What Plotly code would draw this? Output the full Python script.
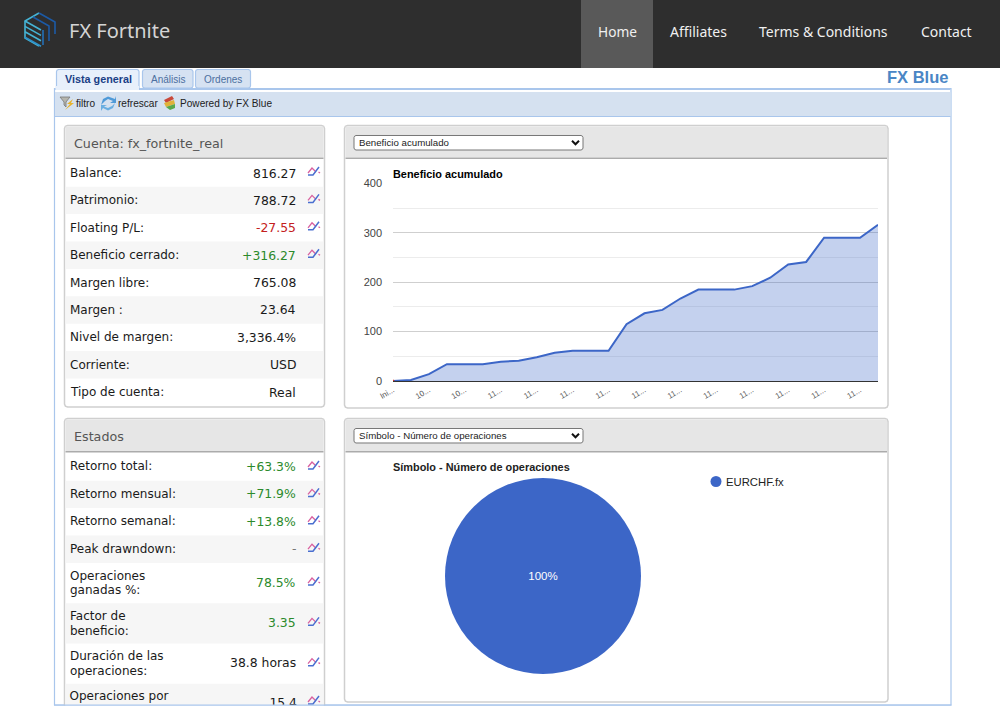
import plotly.graph_objects as go

W = 1000
H = 727

ARIAL = "Liberation Sans"
VERDANA = "DejaVu Sans"
NAV = "Noto Sans"
GREEN = "#2b8a2b"
RED = "#c42020"
BLACK = "#1a1a1a"
BLUE = "#3c66c7"

# cumulative profit, one value per closed trade
profit = [0, 2, 14, 34, 34, 34, 39, 41, 48, 57, 61, 61, 61, 115, 137, 144,
          167, 185, 185, 185, 192, 209, 236, 241, 290, 290, 290, 316.27]
tick_pos = list(range(0, 28, 2))
tick_txt = ["Ini..."] + ["10..."] * 2 + ["11..."] * 11

account_rows = [
    ("Balance:", "816.27", BLACK, True),
    ("Patrimonio:", "788.72", BLACK, True),
    ("Floating P/L:", "-27.55", RED, True),
    ("Beneficio cerrado:", "+316.27", GREEN, True),
    ("Margen libre:", "765.08", BLACK, False),
    ("Margen :", "23.64", BLACK, False),
    ("Nivel de margen:", "3,336.4%", BLACK, False),
    ("Corriente:", "USD", BLACK, False),
    ("Tipo de cuenta:", "Real", BLACK, False),
]
stats_rows = [
    (["Retorno total:"], "+63.3%", GREEN),
    (["Retorno mensual:"], "+71.9%", GREEN),
    (["Retorno semanal:"], "+13.8%", GREEN),
    (["Peak drawndown:"], "-", "#777777"),
    (["Operaciones", "ganadas %:"], "78.5%", GREEN),
    (["Factor de", "beneficio:"], "3.35", GREEN),
    (["Duración de las", "operaciones:"], "38.8 horas", BLACK),
]

shapes = []
notes = []


def px(x):
    return x / W


def py(y):
    return 1 - y / H


def rect(x0, y0, x1, y1, fill, line=None, width=1, layer="below"):
    shapes.append(dict(type="rect", xref="paper", yref="paper", layer=layer,
                       x0=px(x0), x1=px(x1), y0=py(y0), y1=py(y1), fillcolor=fill,
                       line=dict(color=line, width=width) if line else dict(width=0)))


def path(points, fill=None, line=None, width=1, close=True, layer="below"):
    d = "M" + " L".join(f"{px(x):.5f},{py(y):.5f}" for x, y in points)
    if close:
        d += " Z"
    shapes.append(dict(type="path", xref="paper", yref="paper", layer=layer, path=d,
                       fillcolor=fill if fill else "rgba(0,0,0,0)",
                       line=dict(color=line, width=width) if line else dict(width=0)))


def rounded(x0, y0, x1, y1, r, fill, line=None, width=1):
    k = r * 0.3
    pts = [(x0 + r, y0), (x1 - r, y0), (x1 - k, y0 + k), (x1, y0 + r), (x1, y1 - r), (x1 - k, y1 - k),
           (x1 - r, y1), (x0 + r, y1), (x0 + k, y1 - k), (x0, y1 - r), (x0, y0 + r), (x0 + k, y0 + k)]
    path(pts, fill, line, width)


def label(x, y, text, size=12, color=BLACK, font=VERDANA, anchor="left"):
    notes.append(dict(xref="paper", yref="paper", x=px(x), y=py(y), text=text, showarrow=False,
                      xanchor=anchor, yanchor="middle", borderpad=0,
                      font=dict(family=font, size=size, color=color)))


def trend_icon(x, y):
    path([(x, y + 1), (x + 4, y - 4), (x + 8, y)], None, "#d9609f", 1.3, False)
    path([(x, y + 3), (x + 5, y + 3), (x + 11, y - 5)], None, "#4a6fd0", 1.5, False)
    path([(x + 10.5, y), (x + 12, y + 1)], None, "#d9609f", 1.3, False)


def panel(x0, y0, x1, y1, head_bottom, title=None):
    rounded(x0, y0, x1, y1, 3, "white", "#cfcfcf", 1.5)
    rect(x0 + 1, y0 + 1, x1 - 1, head_bottom - 1, "#e6e6e6")
    rect(x0 + 1, head_bottom - 1, x1 - 1, head_bottom + 0.5, "#ababab")
    if title:
        label(x0 + 8, (y0 + head_bottom) / 2 + 1, title, 12.7, "#555555")


def dropdown(y0, y1, text):
    rounded(354, y0, 583, y1, 2, "white", "#777777", 1)
    label(358, (y0 + y1) / 2, text, 9.7, "#222222", ARIAL)
    my = (y0 + y1) / 2
    path([(572, my - 2), (575.5, my + 1.5), (579, my - 2)], None, "#111111", 2, False)


# top bar
rect(0, 0, W, 68, "#2e2e2e")
rect(581, 0, 653, 68, "#595959")
# logo, cyan left face and dark blue right face
CYAN = "#45b4d6"
DARK = "#1c5aa6"
path([(39, 13), (25, 21), (25, 38), (39, 46)], None, CYAN, 1.6, False)
for i in range(4):
    path([(25, 21 + i * 5.4), (41, 30 + i * 5.4)], None, CYAN if i < 3 else "#2e90c8", 1.6, False)
path([(39, 13), (55, 22), (55, 34)], None, DARK, 1.6, False)
path([(33, 17), (49, 26), (49, 41)], None, DARK, 1.6, False)
path([(43, 30), (43, 45)], None, "#2470b8", 1.6, False)
label(67.5, 30.5, "FX Fortnite", 20, "#d4d4d4", NAV)
label(617, 31.5, "Home", 13.7, "#f0f0f0", NAV, "center")
label(698, 31.5, "Affiliates", 14, "#f0f0f0", NAV, "center")
label(823.5, 31.5, "Terms &amp; Conditions", 14, "#f0f0f0", NAV, "center")
label(946.5, 31.5, "Contact", 14, "#f0f0f0", NAV, "center")

# tabs and frame
rounded(56.5, 69.5, 139, 90, 2, "#e8f0fb", "#a9c6ec", 1.2)
rounded(142.5, 69.5, 193, 88, 2, "#d6e2f2", "#a9c6ec", 1.2)
rounded(195.5, 69.5, 250.5, 88, 2, "#d6e2f2", "#a9c6ec", 1.2)
label(98, 79, "<b>Vista general</b>", 10.8, "#1b3f86", ARIAL, "center")
label(168, 79, "Análisis", 10, "#4c6f9f", ARIAL, "center")
label(222.5, 79, "Ordenes", 10, "#4c6f9f", ARIAL, "center")
label(948.5, 76.5, "<b>FX Blue</b>", 16.5, "#4a86c5", ARIAL, "right")
rect(54.5, 88.5, 951, 705, "white", "#a9c6ec", 1.2)
rect(55, 92, 950.5, 116, "#d5e1f0")
rect(55, 88.5, 950.5, 90, "#a9c6ec")
rect(55, 116, 950.5, 117, "#a9c6ec")
rect(139, 86, 55.5, 90, "#e8f0fb", None)

# toolbar
path([(60, 97), (70, 97), (66, 102), (66, 107), (64, 105), (64, 102)], "#b5b5ad", "#777777", 0.8)
path([(73, 99), (67, 104), (70, 104), (65, 110), (74, 103), (71, 103)], "#e8b32c")
label(75, 103.5, "filtro", 10.1, "#222222", ARIAL)
path([(101, 105), (103, 99), (108, 96.5), (115, 99), (116, 96), (116, 103), (110, 103), (113, 101), (108, 99), (105, 101)], "#4f9ad8")
path([(115, 103), (113, 108), (108, 110.5), (103, 108), (101, 111), (101, 105), (107, 105), (104, 106.5), (108, 108), (112, 106)], "#6aaee0")
label(116.5, 103.5, "refrescar", 10.1, "#222222", ARIAL)
path([(164, 100), (172, 96), (174, 99), (166, 103)], "#c9483a")
path([(164, 103), (174, 100), (175, 104), (166, 107)], "#e0b23a")
path([(166, 107), (175, 104), (175, 108), (170, 110)], "#5aa84a")
label(178.5, 103.5, "Powered by FX Blue", 10.1, "#222222", ARIAL)

# account panel
panel(64.5, 125.5, 324.5, 407, 158.5, "Cuenta: fx_fortnite_real")
for i, (name, val, color, icon) in enumerate(account_rows):
    y0 = 159.3 + i * 27.4
    if i % 2 == 1:
        rect(65.5, y0, 323.5, y0 + 27.4, "#f6f6f6")
    mid = y0 + 13.7
    label(68.5, mid, name)
    label(297, mid, val, 12.4, color, VERDANA, "right")
    if icon:
        trend_icon(308, mid - 1)

# stats panel
panel(64.5, 418.5, 324.5, 712, 452, "Estados")
y0 = 453.3
for i, (lines, val, color) in enumerate(stats_rows):
    h = 27.4 if len(lines) == 1 else 40.3
    if i % 2 == 1:
        rect(65.5, y0, 323.5, y0 + h, "#f6f6f6")
    mid = y0 + h / 2
    if len(lines) == 1:
        label(68.5, mid - 0.7, lines[0])
    else:
        label(68.5, mid - 7.3, lines[0])
        label(68.5, mid + 7.3, lines[1])
    label(297, mid - 0.7, val, 12.4, color, VERDANA, "right")
    trend_icon(308, mid - 1)
    y0 += h
rect(65.5, y0, 323.5, 705, "#f6f6f6")
trend_icon(308, 701)

# chart panels
panel(344.5, 125.5, 888, 408, 158.5)
dropdown(135.5, 150, "Beneficio acumulado")
label(391.5, 173.5, "<b>Beneficio acumulado</b>", 10.9, "#000000", ARIAL)
panel(344.5, 418.5, 888, 702, 452)
dropdown(428.5, 443, "Símbolo - Número de operaciones")
label(391.5, 467, "<b>Símbolo - Número de operaciones</b>", 10.9, "#222222", ARIAL)

# pie legend
shapes.append(dict(type="circle", xref="paper", yref="paper", layer="below",
                   x0=px(710.5), x1=px(721.5), y0=py(487), y1=py(476),
                   fillcolor=BLUE, line=dict(width=0)))
label(725, 481.5, "EURCHF.fx", 11.3, "#222222", ARIAL)

# the page is cut off by the frame, nothing shows below it
rect(0, 705.8, W, H, "white", layer="above")
rect(54, 704.6, 951.5, 705.8, "#a9c6ec", layer="above")

fig = go.Figure()
fig.add_trace(go.Scatter(
    x=list(range(len(profit))), y=profit, mode="lines", fill="tozeroy",
    fillcolor="rgba(60,102,199,0.3)", line=dict(color=BLUE, width=2), hoverinfo="x+y",
    showlegend=False,
))
fig.add_trace(go.Scatter(x=[0], y=[profit[0]], mode="markers", marker=dict(color="#d8352a", size=3),
                         showlegend=False))
fig.add_trace(go.Pie(
    labels=["EURCHF.fx"], values=[65], textinfo="percent", sort=False,
    marker=dict(colors=[BLUE]), textfont=dict(color="white", size=11.5, family=ARIAL),
    insidetextorientation="horizontal", showlegend=False,
    domain=dict(x=[px(445), px(641)], y=[py(674), py(478)]),
))
# last stats row runs past the frame, so it goes through a clipped text trace
fig.add_trace(go.Scatter(
    x=[69.5, 69.5], y=[696.7, 716], text=["Operaciones por", "día:"], mode="text",
    textposition="middle right", textfont=dict(family=VERDANA, size=12, color=BLACK),
    xaxis="x2", yaxis="y2", showlegend=False, hoverinfo="skip",
))
fig.add_trace(go.Scatter(
    x=[297], y=[703.5], text=["15.4"], mode="text",
    textposition="middle left", textfont=dict(family=VERDANA, size=12.4, color=BLACK),
    xaxis="x2", yaxis="y2", showlegend=False, hoverinfo="skip",
))

fig.update_layout(
    width=W, height=H, autosize=False, margin=dict(l=0, r=0, t=0, b=0, pad=0, autoexpand=False),
    paper_bgcolor="white", plot_bgcolor="rgba(0,0,0,0)", showlegend=False,
    shapes=shapes, annotations=notes,
    xaxis=dict(domain=[px(393), px(878)], range=[0, 27], tickmode="array", tickvals=tick_pos,
               ticktext=tick_txt, tickangle=-30, showgrid=False, zeroline=False, showline=False,
               tickfont=dict(family=ARIAL, size=8, color="#555555"), ticks="", ticklabelstandoff=2),
    yaxis=dict(domain=[py(381), py(183.4)], range=[0, 400], tick0=0, dtick=100,
               gridcolor="#cfcfcf", gridwidth=1, zeroline=True, zerolinecolor="#333333", zerolinewidth=1,
               minor=dict(dtick=50, showgrid=True, gridcolor="#ececec", gridwidth=1),
               tickfont=dict(family=ARIAL, size=11, color="#444444"), ticks="", ticklabelstandoff=10),
    xaxis2=dict(domain=[0, 1], range=[0, W], visible=False, anchor="y2"),
    yaxis2=dict(domain=[py(705), 1], range=[705, 0], visible=False, anchor="x2"),
)

fig.write_html("out.html", config=dict(displayModeBar=False),
               post_script="document.body.style.margin='0';document.body.style.overflow='hidden';")
